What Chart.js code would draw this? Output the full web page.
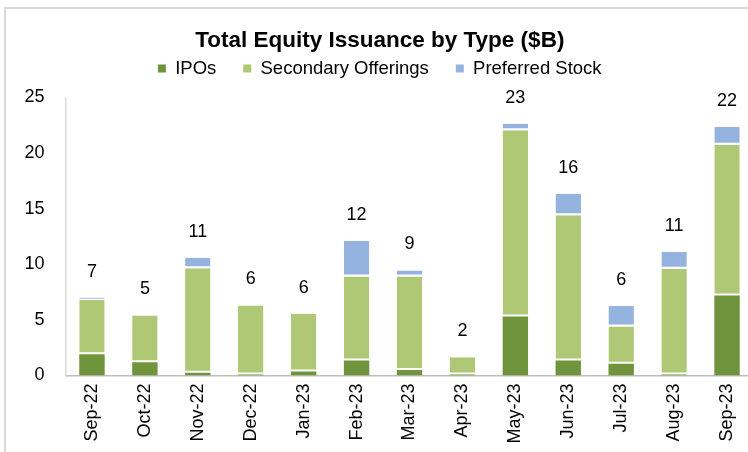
<!DOCTYPE html>
<html>
<head>
<meta charset="utf-8">
<script src="https://cdn.jsdelivr.net/npm/chart.js@4"></script>
<style>
html,body{margin:0;padding:0;background:#fff;overflow:hidden;width:748px;height:452px;}
#frame{position:absolute;left:4px;top:7px;width:770px;height:446px;border:2px solid #d9d9d9;border-right:none;border-bottom:none;}
canvas{display:block;}
</style>
</head>
<body>
<div id="frame"><canvas id="c" width="770" height="446"></canvas></div>
<script>
const categories = ['Sep-22','Oct-22','Nov-22','Dec-22','Jan-23','Feb-23','Mar-23','Apr-23','May-23','Jun-23','Jul-23','Aug-23','Sep-23'];
const ipos      = [1.9, 1.2, 0.25, 0.1, 0.35, 1.35, 0.5, 0.1, 5.3, 1.35, 1.05, 0.1, 7.2];
const secondary = [4.9, 4.2, 9.4, 6.2, 5.2, 7.55, 8.4, 1.55, 16.75, 13.05, 3.35, 9.5, 13.55];
const preferred = [0.2, 0, 0.95, 0, 0, 3.2, 0.55, 0, 0.6, 1.95, 1.85, 1.5, 1.6];
const totalLabels = ['7','5','11','6','6','12','9','2','23','16','6','11','22'];
const yTicks = [0, 5, 10, 15, 20, 25];

const FONT = '"Liberation Sans", Arial, sans-serif';

const totalsPlugin = {
  id: 'totals',
  afterDatasetsDraw(chart) {
    const {ctx, scales: {x, y}} = chart;
    ctx.save();
    ctx.font = '18px ' + FONT;
    ctx.fillStyle = '#000';
    ctx.textAlign = 'center';
    ctx.textBaseline = 'middle';
    categories.forEach((c, i) => {
      const total = ipos[i] + secondary[i] + preferred[i];
      ctx.fillText(totalLabels[i], x.getPixelForValue(i), y.getPixelForValue(total) - 26);
    });
    ctx.restore();
  }
};

new Chart(document.getElementById('c'), {
  type: 'bar',
  data: {
    labels: categories,
    datasets: [
      { label: 'IPOs', data: ipos, backgroundColor: '#70943b', borderWidth: 0 },
      { label: 'Secondary Offerings', data: secondary, backgroundColor: '#afc876',
        borderColor: '#ffffff', borderWidth: {top: 0, left: 0, right: 0, bottom: 2}, borderSkipped: false },
      { label: 'Preferred Stock', data: preferred, backgroundColor: '#95b3df',
        borderColor: '#ffffff', borderWidth: {top: 0, left: 0, right: 0, bottom: 2}, borderSkipped: false }
    ]
  },
  options: {
    responsive: false,
    animation: false,
    devicePixelRatio: 1,
    layout: { padding: { left: 0, right: 22.5, top: 0, bottom: 0 } },
    datasets: { bar: { categoryPercentage: 1, barPercentage: 0.48 } },
    plugins: {
      title: {
        display: true,
        text: 'Total Equity Issuance by Type ($B)',
        color: '#000',
        font: { family: FONT, size: 22.5, weight: 'bold' },
        padding: { top: 10, bottom: -21.75 }
      },
      subtitle: {
        display: true,
        text: '',
        weight: 500,
        font: { family: FONT, size: 5 },
        padding: { top: 3.75, bottom: 0 }
      },
      legend: {
        display: true,
        position: 'top',
        labels: {
          color: '#000',
          font: { family: FONT, size: 18.5 },
          boxWidth: 8,
          boxHeight: 8,
          padding: 27,
          generateLabels: (chart) => Chart.defaults.plugins.legend.labels.generateLabels(chart).map(l => Object.assign(l, {lineWidth: 0}))
        }
      },
      tooltip: { enabled: false }
    },
    scales: {
      x: {
        stacked: true,
        grid: { display: false, drawTicks: false },
        border: { display: true, color: '#bfbfbf', width: 1.5 },
        ticks: { color: '#000', font: { family: FONT, size: 18 }, minRotation: 90, maxRotation: 90, padding: 8, autoSkip: false },
        afterFit(s) { s.height = 79.5; }
      },
      y: {
        stacked: true,
        min: 0,
        max: 25,
        grid: { display: false, drawTicks: false },
        border: { display: true, color: '#d9d9d9', width: 1.5 },
        ticks: { color: '#000', font: { family: FONT, size: 18 }, stepSize: 5, padding: 21,
          callback: (v) => yTicks.includes(v) ? String(v) : '' },
        afterFit(s) { s.width = 59.5; s.paddingTop = 88.5; }
      }
    }
  },
  plugins: [totalsPlugin]
});
</script>
</body>
</html>
